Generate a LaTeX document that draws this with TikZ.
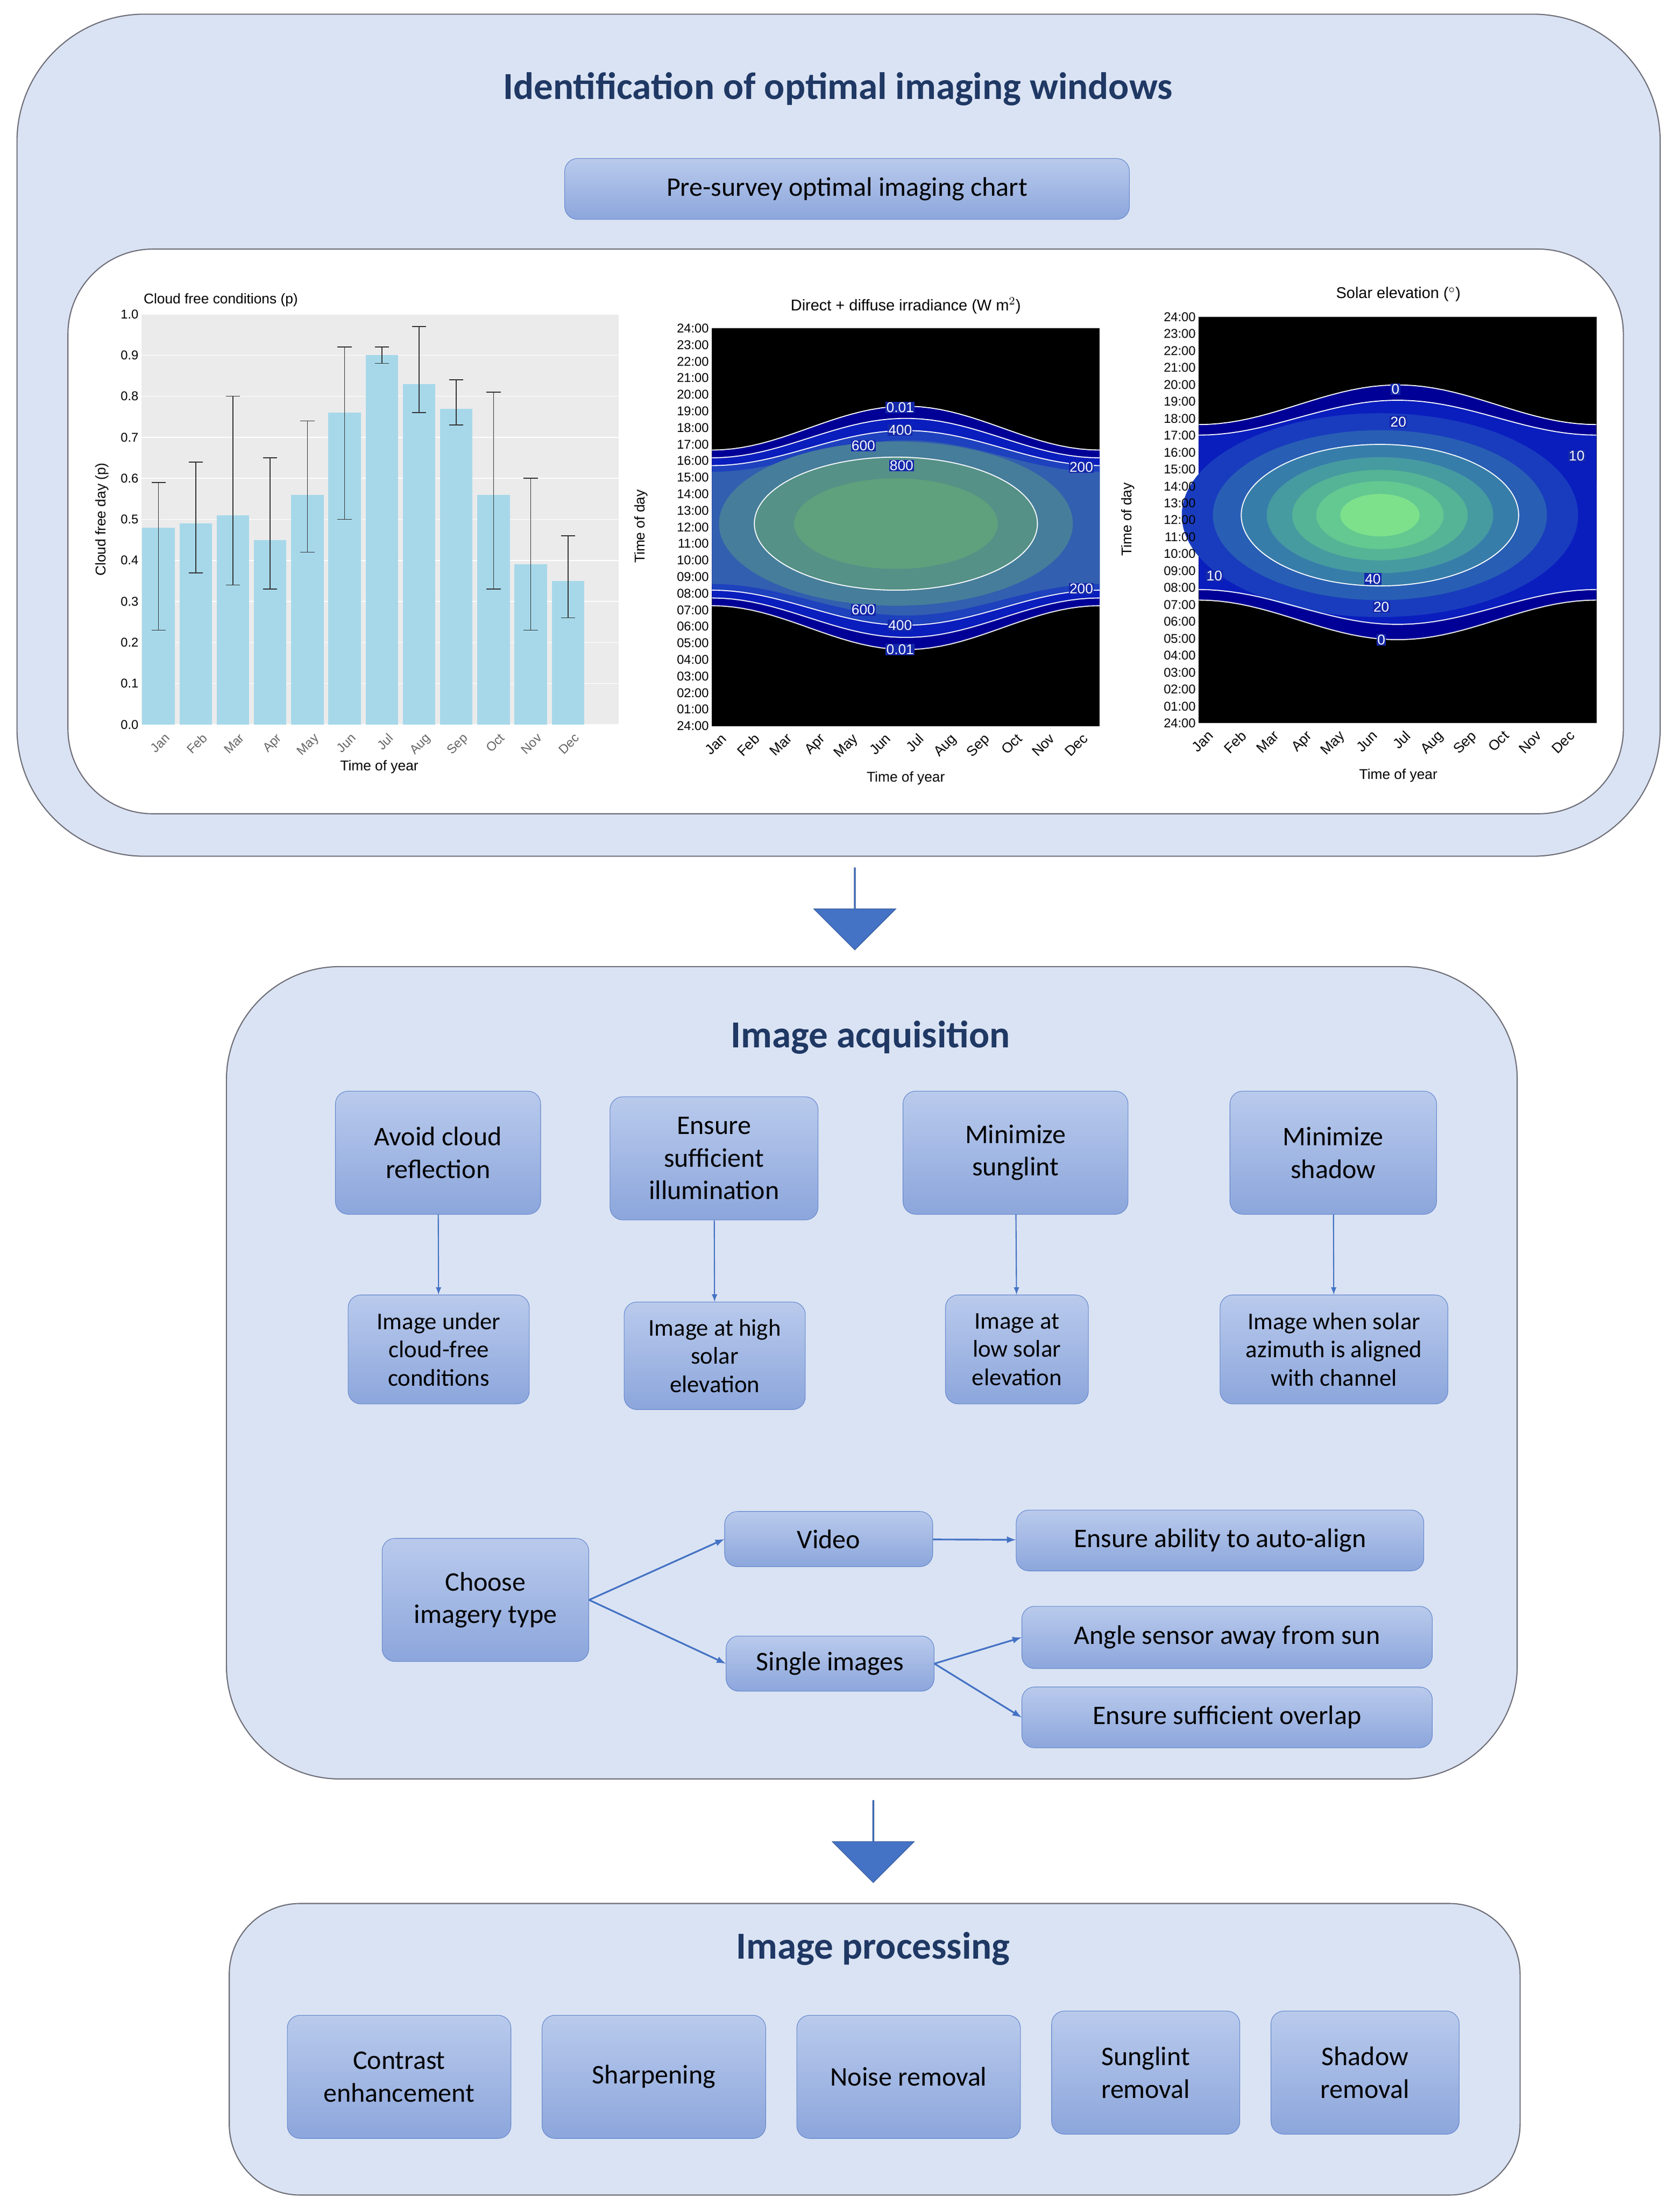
\documentclass[tikz,border=0pt]{standalone}
\usepackage{fontspec}
\setmainfont{Carlito}
\newfontfamily\chartfont{Liberation Sans}
\usetikzlibrary{shapes.arrows,positioning,calc}
\definecolor{panel}{RGB}{218,227,243}
\definecolor{panelline}{RGB}{110,110,120}
\definecolor{boxtop}{RGB}{185,202,236}
\definecolor{boxbot}{RGB}{140,166,220}
\definecolor{boxline}{RGB}{100,135,205}
\definecolor{headblue}{RGB}{31,56,100}
\definecolor{arrowblue}{RGB}{68,114,196}
\definecolor{barblue}{RGB}{166,216,234}
\definecolor{gridgray}{RGB}{235,235,235}
\definecolor{labbg}{RGB}{20,40,170}
\begin{document}
\begin{tikzpicture}[x=1pt,y=-1pt,
  panelbox/.style={draw=panelline,fill=panel,line width=0.8pt},
  flowbox/.style={draw=boxline,top color=boxtop,bottom color=boxbot,rounded corners=9pt,
    align=center,font=\fontsize{19}{23}\selectfont,inner sep=0pt},
  smallbox/.style={flowbox,font=\fontsize{17}{20}\selectfont},
  heading/.style={font=\fontsize{27}{32}\selectfont\bfseries,text=headblue},
  link/.style={draw=arrowblue,line width=1.2pt,-latex},
  thinlink/.style={draw=arrowblue,line width=0.8pt,-latex},
  downarrow/.style={single arrow,draw=arrowblue!80!black,fill=arrowblue,minimum width=58pt,
    single arrow head extend=14pt,minimum height=58pt,shape border rotate=270,inner sep=0pt,
    single arrow head indent=0pt},
  ticklab/.style={font=\chartfont\fontsize{9}{10}\selectfont,inner sep=1pt},
  monthlab/.style={font=\chartfont\fontsize{10}{11}\selectfont,inner sep=1pt,rotate=45,anchor=north east},
  contour/.style={draw=white,line width=0.7pt},
  clabel/.style={font=\chartfont\fontsize{10}{11}\selectfont,text=white,fill=labbg,inner sep=0.5pt}]
\useasboundingbox (0,0) rectangle (1186,1563);

% top panel
\path[panelbox,rounded corners=90pt] (12,10) rectangle (1173,605);
\node[heading] (titleA) at (592,63) {Identification of optimal imaging windows};
\node[flowbox,minimum width=399pt,minimum height=43pt] (chart) at (598.5,133.5) {Pre-survey optimal imaging chart};
\path[draw=panelline,fill=white,line width=0.8pt,rounded corners=60pt] (48,176) rectangle (1147,575);

% cloud free chart
\fill[gridgray] (100,222) rectangle (437,512);
\foreach \v/\t in {0/0.0,1/0.1,2/0.2,3/0.3,4/0.4,5/0.5,6/0.6,7/0.7,8/0.8,9/0.9,10/1.0}{
  \draw[white,line width=0.6pt] (100,{512-29*\v}) -- (437,{512-29*\v});
  \node[ticklab,anchor=east] at (99,{512-29*\v}) {\t};}
\foreach [count=\i] \m/\p/\lo/\hi in {Jan/.48/.23/.59,Feb/.49/.37/.64,Mar/.51/.34/.80,Apr/.45/.33/.65,
  May/.56/.42/.74,Jun/.76/.50/.92,Jul/.90/.88/.92,Aug/.83/.76/.97,Sep/.77/.73/.84,Oct/.56/.33/.81,
  Nov/.39/.23/.60,Dec/.35/.26/.46}{
  \pgfmathsetmacro\cx{112+26.3*(\i-1)}
  \fill[barblue] (\cx-11.5,512) rectangle (\cx+11.5,{512-290*\p});
  \draw[black!80,line width=0.6pt] (\cx,{512-290*\lo}) -- (\cx,{512-290*\hi})
    (\cx-5,{512-290*\lo}) -- (\cx+5,{512-290*\lo}) (\cx-5,{512-290*\hi}) -- (\cx+5,{512-290*\hi});
  \node[ticklab,text=black!60,rotate=45,anchor=north east] at (\cx+4,516) {\m};}
\node[font=\chartfont\fontsize{10}{12}\selectfont,anchor=west] (cloudt) at (98,212) {Cloud free conditions (p)};
\node[font=\chartfont\fontsize{10}{12}\selectfont] (cloudx) at (268,542) {Time of year};
\node[font=\chartfont\fontsize{10}{12}\selectfont,rotate=90] (cloudy) at (72,367) {Cloud free day (p)};

% irradiance chart
\fill[black] (503,232) rectangle (777,513);
\foreach \f/\c in {1/{rgb,255:red,0;green,0;blue,150},0.9/{rgb,255:red,10;green,30;blue,190},
  0.8/{rgb,255:red,30;green,65;blue,190},0.72/{rgb,255:red,50;green,95;blue,175}}
  \fill[color=\c] plot[domain=0:1,samples=40] ({503+274*\x},{373-\f*(70.5-15.5*cos(360*\x))})
    -- plot[domain=1:0,samples=40] ({503+274*\x},{373+\f*(70.5-15.5*cos(360*\x))}) -- cycle;
\fill[color={rgb,255:red,70;green,125;blue,155}] (633,370) ellipse (125pt and 58pt);
\fill[color={rgb,255:red,85;green,145;blue,135}] (633,370) ellipse (100pt and 47pt);
\fill[color={rgb,255:red,95;green,160;blue,125}] (633,370) ellipse (72pt and 32pt);
\foreach \f in {1,0.9,0.8}{
  \draw[contour] plot[domain=0:1,samples=40] ({503+274*\x},{373-\f*(70.5-15.5*cos(360*\x))});
  \draw[contour] plot[domain=0:1,samples=40] ({503+274*\x},{373+\f*(70.5-15.5*cos(360*\x))});}
\draw[contour] (633,370) ellipse (100pt and 47pt);
\node[clabel] at (636,288) {0.01}; \node[clabel] at (636,304) {400};
\node[clabel] at (610,315) {600}; \node[clabel] at (637,329) {800};
\node[clabel] at (764,330) {200}; \node[clabel] at (764,416) {200};
\node[clabel] at (610,431) {600}; \node[clabel] at (636,442) {400};
\node[clabel] at (636,459) {0.01};
\node[font=\chartfont\fontsize{11}{13}\selectfont] (irrt) at (640,216) {Direct + diffuse irradiance (W m$^{2}$)};
\node[font=\chartfont\fontsize{10}{12}\selectfont] (irrx) at (640,550) {Time of year};
\node[font=\chartfont\fontsize{10}{12}\selectfont,rotate=90] (irry) at (453,372) {Time of day};

% solar elevation chart
\fill[black] (847,224) rectangle (1128,511);
\foreach \f/\c in {1/{rgb,255:red,0;green,0;blue,150},0.88/{rgb,255:red,10;green,30;blue,190}}
  \fill[color=\c] plot[domain=0:1,samples=40] ({847+281*\x},{362-\f*(76-14*cos(360*\x))})
    -- plot[domain=1:0,samples=40] ({847+281*\x},{362+\f*(76-14*cos(360*\x))}) -- cycle;
\foreach \rx/\ry/\c in {140/72/{rgb,255:red,25;green,60;blue,190},118/60/{rgb,255:red,40;green,95;blue,180},
  98/50/{rgb,255:red,55;green,125;blue,170},80/41/{rgb,255:red,70;green,155;blue,160},
  62/32/{rgb,255:red,85;green,180;blue,150},45/24/{rgb,255:red,100;green,200;blue,145},
  28/15/{rgb,255:red,125;green,225;blue,140}}
  \fill[color=\c] (975,364) ellipse (\rx pt and \ry pt);
\foreach \f in {1,0.88}{
  \draw[contour] plot[domain=0:1,samples=40] ({847+281*\x},{362-\f*(76-14*cos(360*\x))});
  \draw[contour] plot[domain=0:1,samples=40] ({847+281*\x},{362+\f*(76-14*cos(360*\x))});}
\draw[contour] (975,364) ellipse (98pt and 50pt);
\node[clabel] at (986,275) {0}; \node[clabel] at (988,298) {20};
\node[clabel] at (1114,322) {10}; \node[clabel] at (858,407) {10};
\node[clabel] at (970,409) {40}; \node[clabel] at (976,429) {20};
\node[clabel] at (976,452) {0};
\node[font=\chartfont\fontsize{11}{13}\selectfont] (solt) at (988,208) {Solar elevation ($^{\circ}$)};
\node[font=\chartfont\fontsize{10}{12}\selectfont] (solx) at (988,548) {Time of year};
\node[font=\chartfont\fontsize{10}{12}\selectfont,rotate=90] (soly) at (797,367) {Time of day};

% shared axis ticks of the two maps
\foreach \x/\top/\bot in {503/232/513,847/224/511}{
  \foreach \k in {0,...,24}{
    \pgfmathtruncatemacro\hr{\k==0 ? 24 : \k}
    \node[ticklab,anchor=east] at (\x-1,{\bot-(\bot-\top)*\k/24}) {\ifnum\hr<10 0\fi\hr:00};}
  \foreach [count=\i] \m in {Jan,Feb,Mar,Apr,May,Jun,Jul,Aug,Sep,Oct,Nov,Dec}
    \node[monthlab] at ({\x+6+23.2*(\i-1)},\bot+3) {\m};}

\node[downarrow] (down1) at (604,642) {};

% acquisition panel
\path[panelbox,rounded corners=80pt] (160,683) rectangle (1072,1257);
\node[heading] (titleB) at (615,733) {Image acquisition};
\node[flowbox,minimum width=145pt,minimum height=87pt] (cloud) at (309.5,814.5) {Avoid cloud\\reflection};
\node[flowbox,minimum width=147pt,minimum height=87pt] (illum) at (504.5,818.5) {Ensure\\sufficient\\illumination};
\node[flowbox,minimum width=159pt,minimum height=87pt] (glint) at (717.5,814.5) {Minimize\\sunglint};
\node[flowbox,minimum width=146pt,minimum height=87pt] (shadow) at (942,814.5) {Minimize\\shadow};
\node[smallbox,minimum width=128pt,minimum height=77pt] (cloudfree) at (310,953.5) {Image under\\cloud-free\\conditions};
\node[smallbox,minimum width=128pt,minimum height=76pt] (highsun) at (505,958) {Image at high\\solar\\elevation};
\node[smallbox,minimum width=101pt,minimum height=77pt] (lowsun) at (718.5,953.5) {Image at\\low solar\\elevation};
\node[smallbox,minimum width=161pt,minimum height=77pt] (azimuth) at (942.5,953.5) {Image when solar\\azimuth is aligned\\with channel};
\draw[thinlink] (cloud) -- (cloudfree);
\draw[thinlink] (illum) -- (highsun);
\draw[thinlink] (glint) -- (lowsun);
\draw[thinlink] (shadow) -- (azimuth);

\node[flowbox,minimum width=146pt,minimum height=87pt] (choose) at (343,1130.5) {Choose\\imagery type};
\node[flowbox,minimum width=147pt,minimum height=39pt] (video) at (585.5,1087.5) {Video};
\node[flowbox,minimum width=147pt,minimum height=39pt] (single) at (586.5,1175.5) {Single images};
\node[flowbox,minimum width=288pt,minimum height=43pt] (align) at (862,1088.5) {Ensure ability to auto-align};
\node[flowbox,minimum width=290pt,minimum height=44pt] (angle) at (867,1157) {Angle sensor away from sun};
\node[flowbox,minimum width=290pt,minimum height=43pt] (overlap) at (867,1213.5) {Ensure sufficient overlap};
\draw[link] (choose.east) -- (video.west);
\draw[link] (choose.east) -- (single.west);
\draw[link] (video) -- (align);
\draw[link] (single.east) -- (angle.west);
\draw[link] (single.east) -- (overlap.west);

\node[downarrow] (down2) at (617,1301) {};

% processing panel
\path[panelbox,rounded corners=50pt] (162,1345) rectangle (1074,1551);
\node[heading] (titleC) at (617,1377) {Image processing};
\node[flowbox,minimum width=158pt,minimum height=87pt] (contrast) at (282,1467.5) {Contrast\\enhancement};
\node[flowbox,minimum width=158pt,minimum height=87pt] (sharpen) at (462,1467.5) {Sharpening};
\node[flowbox,minimum width=158pt,minimum height=87pt] (noise) at (642,1467.5) {Noise removal};
\node[flowbox,minimum width=133pt,minimum height=87pt] (glintrm) at (809.5,1464.5) {Sunglint\\removal};
\node[flowbox,minimum width=133pt,minimum height=87pt] (shadowrm) at (964.5,1464.5) {Shadow\\removal};
\end{tikzpicture}
\end{document}
